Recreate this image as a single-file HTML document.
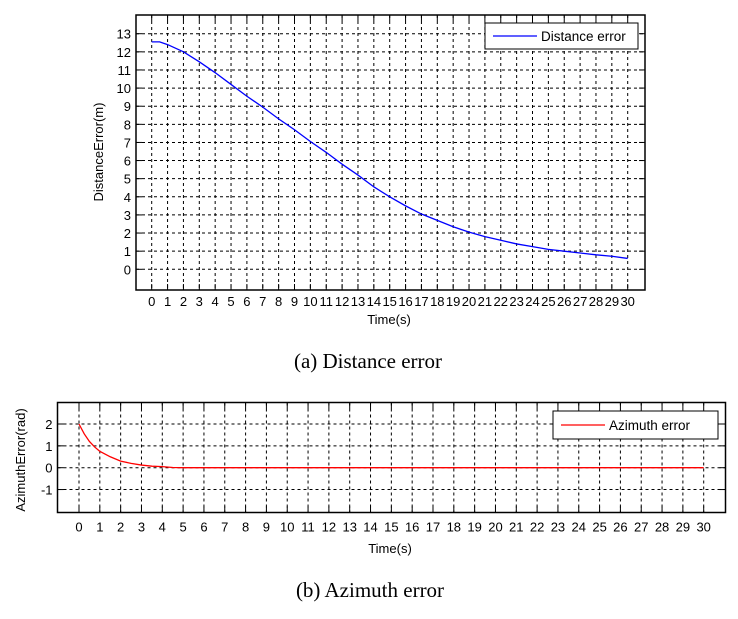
<!DOCTYPE html>
<html><head><meta charset="utf-8"><style>
html,body{margin:0;padding:0;background:#fff;}
svg text{font-family:"Liberation Sans",Arial,sans-serif;}
.cap{font-family:"Liberation Serif","Times New Roman",serif;font-size:21px;}
</style></head><body>
<svg id="c" width="738" height="614" viewBox="0 0 738 614" xmlns="http://www.w3.org/2000/svg"></svg>
<script>
const timeTicks=[0,1,2,3,4,5,6,7,8,9,10,11,12,13,14,15,16,17,18,19,20,21,22,23,24,25,26,27,28,29,30];
const distTicks=[0,1,2,3,4,5,6,7,8,9,10,11,12,13];
const azTicks=[-1,0,1,2];
const distT=[0,0.5,1,2,3,4,5,6,7,8,9,10,11,12,13,14,15,16,17,18,19,20,21,22,23,24,25,26,27,28,29,30];
const distV=[12.55,12.55,12.4,12.0,11.45,10.85,10.2,9.55,8.95,8.3,7.7,7.05,6.45,5.8,5.2,4.55,4.0,3.5,3.05,2.7,2.35,2.05,1.8,1.6,1.4,1.25,1.1,1.0,0.9,0.8,0.72,0.6];
const azT=[0,0.25,0.5,0.75,1,1.5,2,2.5,3,3.5,4,4.5,5,10,15,20,25,30];
const azV=[2.0,1.55,1.2,0.95,0.75,0.5,0.3,0.2,0.12,0.07,0.05,0.01,0,0,0,0,0,0];

const NS="http://www.w3.org/2000/svg";
const svg=document.getElementById('c');
function el(tag,attrs,parent,txt){const e=document.createElementNS(NS,tag);for(const k in attrs)e.setAttribute(k,attrs[k]);if(txt!==undefined)e.textContent=txt;(parent||svg).appendChild(e);return e;}

function chart(o){
  const g=el('g',{});
  
  
  const sx=v=>o.x0+(v-o.xmin)*(o.x1-o.x0)/(o.xmax-o.xmin);
  const sy=v=>o.y0-(v-o.ymin)*(o.y0-o.y1)/(o.ymax-o.ymin);
  const grid=el('g',{},g);
  
  
  timeTicks.forEach(t=>{const x=sx(t);
    el('line',{x1:x,x2:x,y1:o.top,y2:o.bot,stroke:'#000','stroke-width':1,'stroke-dasharray':'3,3'},grid);
    el('line',{x1:x,x2:x,y1:o.bot,y2:o.bot-6,stroke:'#000','stroke-width':1},grid);
    el('line',{x1:x,x2:x,y1:o.top,y2:o.top+6,stroke:'#000','stroke-width':1},grid);
    const tl=el('text',{x:x,y:o.bot+o.xlOff,'text-anchor':'middle','font-size':13},g,String(t));
    
    
  });
  o.yTicks.forEach(v=>{const y=sy(v);
    el('line',{x1:o.left,x2:o.right,y1:y,y2:y,stroke:'#000','stroke-width':1,'stroke-dasharray':'3,3'},grid);
    el('line',{x1:o.left,x2:o.left+6,y1:y,y2:y,stroke:'#000','stroke-width':1},grid);
    el('line',{x1:o.right,x2:o.right-6,y1:y,y2:y,stroke:'#000','stroke-width':1},grid);
    const tl=el('text',{x:o.left-5,y:y+5,'text-anchor':'end','font-size':13},g,String(v));
    
    
  });
  const fr=el('rect',{x:o.left,y:o.top,width:o.right-o.left,height:o.bot-o.top,fill:'none',stroke:'#000','stroke-width':1.5},g);
  
  
  const p=el('polyline',{points:o.xs.map((t,i)=>sx(t)+','+sy(o.ys[i])).join(' '),fill:'none',stroke:o.color,'stroke-width':1.3},g);
  
  
  const lg=el('g',{},g);
  
  
  el('rect',{x:o.lx,y:o.ly,width:o.lw,height:o.lh,fill:'#fff',stroke:'#000','stroke-width':1},lg);
  el('line',{x1:o.lx+8,x2:o.lx+52,y1:o.ly+o.lh/2,y2:o.ly+o.lh/2,stroke:o.color,'stroke-width':1.3},lg);
  el('text',{x:o.lx+56,y:o.ly+o.lh/2+5,'font-size':13.5},lg,o.label);
  const xt=el('text',{x:o.xtx,y:o.xty,'text-anchor':'middle','font-size':13},g,'Time(s)');
  
  
  const yt=el('text',{x:0,y:0,'text-anchor':'middle','font-size':13,transform:'translate('+o.ytx+','+o.yty+') rotate(-90)'},g,o.ytitle);
  
  
}
chart({name:'distance-chart',left:136,right:645,top:15,bot:290,x0:151.7,x1:627.7,xmin:0,xmax:30,y0:269.3,y1:33.7,ymin:0,ymax:13,
  yTicks:distTicks,xs:distT,ys:distV,color:'#0000ff',seriesName:'distance-error-line',xlOff:16,
  lx:485,ly:23,lw:153,lh:26,label:'Distance error',xtx:389,xty:324,ytx:103,yty:152,ytitle:'DistanceError(m)'});
chart({name:'azimuth-chart',left:57.5,right:725.5,top:402.5,bot:512.5,x0:79,x1:703.7,xmin:0,xmax:30,y0:467.7,y1:424,ymin:0,ymax:2,
  yTicks:azTicks,xs:azT,ys:azV,color:'#ff0000',seriesName:'azimuth-error-line',xlOff:19,
  lx:553,ly:411,lw:165,lh:28,label:'Azimuth error',xtx:390,xty:553,ytx:25,yty:460,ytitle:'AzimuthError(rad)'});
const c1=el('text',{x:368,y:368,'text-anchor':'middle',class:'cap'},svg,'(a)  Distance  error');


const c2=el('text',{x:370,y:597,'text-anchor':'middle',class:'cap'},svg,'(b)  Azimuth  error');


</script>
</body></html>
